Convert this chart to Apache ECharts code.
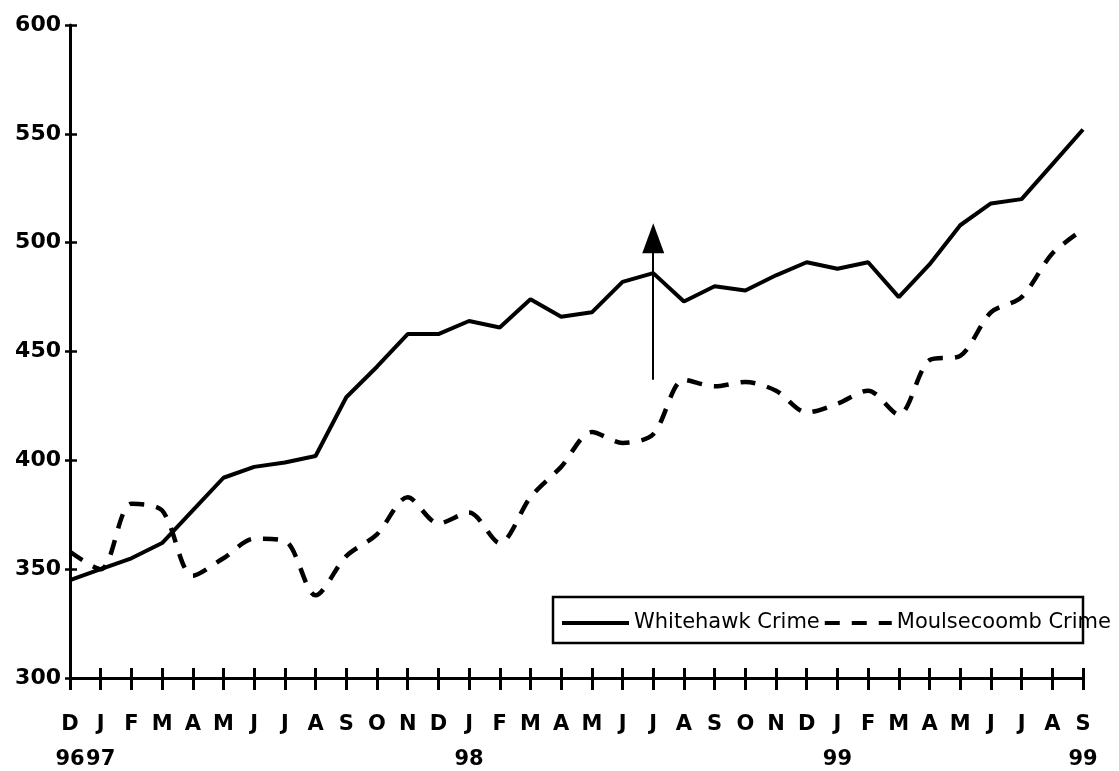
<!DOCTYPE html>
<html>
<head>
<meta charset="utf-8">
<script src="https://cdn.jsdelivr.net/npm/echarts@6/dist/echarts.min.js"></script>
<style>
  html, body { margin: 0; padding: 0; background: #fff; }
  #chart { width: 1119px; height: 771px; }
</style>
</head>
<body>
<div id="chart"></div>
<script>
// Dec 1996 .. Sep 1999, one point per month
var months = ['D', 'J', 'F', 'M', 'A', 'M', 'J', 'J', 'A', 'S', 'O', 'N',
              'D', 'J', 'F', 'M', 'A', 'M', 'J', 'J', 'A', 'S', 'O', 'N',
              'D', 'J', 'F', 'M', 'A', 'M', 'J', 'J', 'A', 'S'];
var years = ['96', '97', '', '', '', '', '', '', '', '', '', '',
             '', '98', '', '', '', '', '', '', '', '', '', '',
             '', '99', '', '', '', '', '', '', '', '99'];
var whitehawk = [345, 350, 355, 362, 377, 392, 397, 399, 402, 429, 443, 458,
                 458, 464, 461, 474, 466, 468, 482, 486, 473, 480, 478, 485,
                 491, 488, 491, 475, 490, 508, 518, 520, 536, 552];
var moulsecoomb = [358, 350, 380, 377, 347, 355, 364, 363, 338, 356, 366, 383,
                   371, 376, 362, 383, 397, 413, 408, 412, 437, 434, 436, 432,
                   422, 426, 432, 421, 446, 448, 468, 475, 495, 506];
var yMin = 300, yMax = 600, yStep = 50;
// arrow drawn up from the Jul 98 point (index 19)
var arrowIndex = 19;
var arrowFrom = 437;
var arrowTo = 502;

var categories = months.map(function(m, i) { return i; });
var font = 'DejaVu Sans';

var chart = echarts.init(document.getElementById('chart'), null, { renderer: 'canvas' });
chart.setOption({
  animation: false,
  backgroundColor: '#fff',
  grid: { left: 70, right: 36, top: 25, bottom: 93, containLabel: false },
  xAxis: [{
    type: 'category',
    data: categories,
    boundaryGap: false,
    axisLine: { lineStyle: { color: '#000', width: 3 } },
    axisTick: { alignWithLabel: true, length: 12, lineStyle: { color: '#000', width: 3 } },
    axisLabel: {
      interval: 0,
      margin: 29,
      formatter: function(v, i) {
        var s = '{m|' + months[i] + '}';
        if (years[i]) s += '\n{y|' + years[i] + '}';
        return s;
      },
      rich: {
        m: { fontFamily: font, fontSize: 21, fontWeight: 'bold', color: '#000', lineHeight: 35 },
        y: { fontFamily: font, fontSize: 21, fontWeight: 'bold', color: '#000', lineHeight: 35 }
      }
    },
    splitLine: { show: false }
  }, {
    // inner half of the crossing ticks
    type: 'category',
    data: categories,
    boundaryGap: false,
    position: 'top',
    offset: -653,
    axisLine: { show: false },
    axisTick: { length: 10, lineStyle: { color: '#000', width: 3 } },
    axisLabel: { show: false },
    splitLine: { show: false }
  }],
  yAxis: [{
    type: 'value',
    min: yMin,
    max: yMax,
    interval: yStep,
    axisLine: { show: true, lineStyle: { color: '#000', width: 3 } },
    axisTick: { show: true, length: 5, lineStyle: { color: '#000', width: 2.5 } },
    axisLabel: { color: '#000', fontFamily: font, fontSize: 22, fontWeight: 'bold', margin: 9 },
    splitLine: { show: false }
  }, {
    type: 'value',
    min: yMin,
    max: yMax,
    interval: yStep,
    position: 'right',
    offset: -1013,
    axisLine: { show: false },
    axisTick: { show: true, length: 7, lineStyle: { color: '#000', width: 2.5 } },
    axisLabel: { show: false },
    splitLine: { show: false }
  }],
  legend: {
    left: 555,
    top: 607,
    z: 5,
    itemWidth: 67,
    itemHeight: 14,
    itemGap: 3,
    itemStyle: { opacity: 0 },
    lineStyle: { width: 4 },
    textStyle: { fontFamily: font, fontSize: 21, color: '#000', lineHeight: 22 },
    data: ['Whitehawk Crime', 'Moulsecoomb Crime']
  },
  graphic: [{
    type: 'rect',
    z: 3,
    shape: { x: 553, y: 597, width: 530, height: 46 },
    style: { fill: '#fff', stroke: '#000', lineWidth: 2.5 }
  }],
  series: [{
    name: 'Whitehawk Crime',
    type: 'line',
    data: whitehawk,
    symbol: 'none',
    lineStyle: { color: '#000', width: 4 },
    itemStyle: { color: '#000' },
    markLine: {
      silent: true,
      symbol: ['none', 'triangle'],
      symbolSize: [22, 30],
      label: { show: false },
      lineStyle: { color: '#000', width: 2, type: 'solid' },
      data: [[{ coord: [arrowIndex, arrowFrom] }, { coord: [arrowIndex, arrowTo] }]]
    }
  }, {
    name: 'Moulsecoomb Crime',
    type: 'line',
    data: moulsecoomb,
    symbol: 'none',
    smooth: 0.3,
    lineStyle: { color: '#000', width: 4.5, type: [15, 12] },
    itemStyle: { color: '#000' }
  }]
});
</script>
</body>
</html>
